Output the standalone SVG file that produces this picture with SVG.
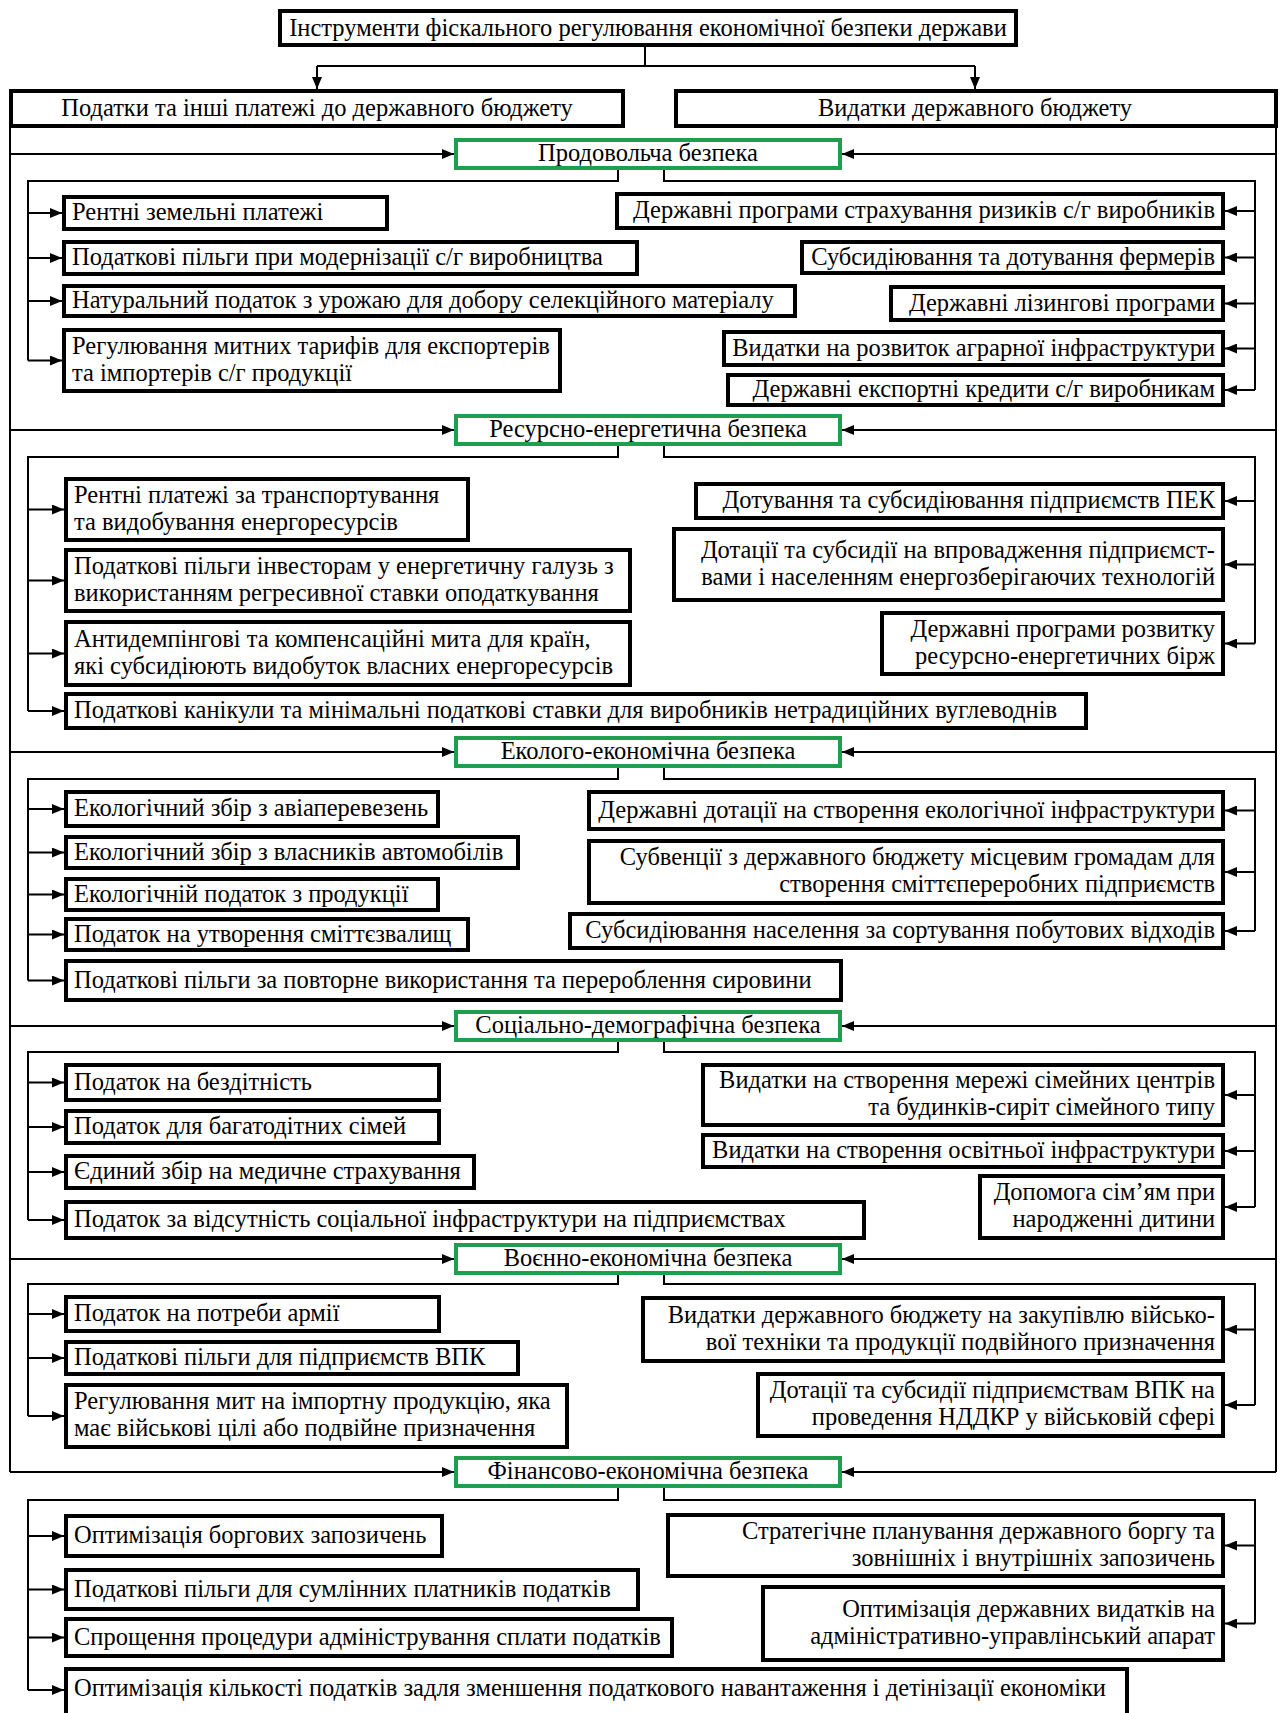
<svg xmlns="http://www.w3.org/2000/svg" width="1281" height="1713" viewBox="0 0 1281 1713">
<style>
.box{fill:#fff;stroke:#000;stroke-width:4}
.gbox{fill:#fff;stroke:#1e9f4f;stroke-width:4}
.t{font-family:"Liberation Serif","Times New Roman",serif;font-size:24.5px;fill:#000}
.l{text-anchor:start}.r{text-anchor:end}.c{text-anchor:middle}
.ln{fill:none;stroke:#000;stroke-width:2}
.ar{fill:none;stroke:#000;stroke-width:2;marker-end:url(#ah)}
</style>
<defs>
<marker id="ah" viewBox="0 0 12 10" refX="12" refY="5" markerWidth="12" markerHeight="10" markerUnits="userSpaceOnUse" orient="auto"><path d="M0,0 L12,5 L0,10 z" fill="#000"/></marker>
</defs>
<rect width="1281" height="1713" fill="#fff"/>
<g id="connectors">
<path class="ln" d="M645,47 V66 M317,66 H975"/>
<path class="ar" d="M317,66 V89"/><path class="ar" d="M975,66 V89"/>
<path class="ln" d="M10,128 V1472 M1276,128 V1472"/>
<path class="ar" d="M10,154 H454"/><path class="ar" d="M1276,154 H842"/>
<path class="ar" d="M10,430 H454"/><path class="ar" d="M1276,430 H842"/>
<path class="ar" d="M10,752 H454"/><path class="ar" d="M1276,752 H842"/>
<path class="ar" d="M10,1026 H454"/><path class="ar" d="M1276,1026 H842"/>
<path class="ar" d="M10,1259 H454"/><path class="ar" d="M1276,1259 H842"/>
<path class="ar" d="M10,1472 H454"/><path class="ar" d="M1276,1472 H842"/>
<path class="ln" d="M618,170 V181 H28 V360.5 M664,170 V181 H1255 V390"/>
<path class="ar" d="M28,213 H62"/><path class="ar" d="M28,258 H62"/><path class="ar" d="M28,301 H62"/><path class="ar" d="M28,360.5 H62"/>
<path class="ar" d="M1255,211 H1225"/><path class="ar" d="M1255,257.5 H1225"/><path class="ar" d="M1255,303.5 H1225"/><path class="ar" d="M1255,348.5 H1225"/><path class="ar" d="M1255,390 H1225"/>
<path class="ln" d="M618,446 V457 H28 V711 M664,446 V457 H1255 V643.5"/>
<path class="ar" d="M28,509.5 H64"/><path class="ar" d="M28,580.5 H64"/><path class="ar" d="M28,653.5 H64"/><path class="ar" d="M28,711 H64"/>
<path class="ar" d="M1255,501 H1225"/><path class="ar" d="M1255,564.5 H1225"/><path class="ar" d="M1255,643.5 H1225"/>
<path class="ln" d="M618,768 V779 H28 V980.5 M664,768 V779 H1255 V931"/>
<path class="ar" d="M28,809 H64"/><path class="ar" d="M28,852.5 H64"/><path class="ar" d="M28,894.5 H64"/><path class="ar" d="M28,934.5 H64"/><path class="ar" d="M28,980.5 H64"/>
<path class="ar" d="M1255,810.5 H1225"/><path class="ar" d="M1255,872 H1225"/><path class="ar" d="M1255,931 H1225"/>
<path class="ln" d="M618,1042 V1052 H28 V1220 M664,1042 V1052 H1255 V1207"/>
<path class="ar" d="M28,1082.5 H64"/><path class="ar" d="M28,1127 H64"/><path class="ar" d="M28,1172 H64"/><path class="ar" d="M28,1220 H64"/>
<path class="ar" d="M1255,1095 H1225"/><path class="ar" d="M1255,1151 H1225"/><path class="ar" d="M1255,1207 H1225"/>
<path class="ln" d="M618,1275 V1284 H28 V1416 M664,1275 V1284 H1255 V1405"/>
<path class="ar" d="M28,1314 H64"/><path class="ar" d="M28,1358 H64"/><path class="ar" d="M28,1416 H64"/>
<path class="ar" d="M1255,1329.5 H1225"/><path class="ar" d="M1255,1405 H1225"/>
<path class="ln" d="M618,1488 V1500 H28 V1690 M664,1488 V1500 H1255 V1623.5"/>
<path class="ar" d="M28,1536 H64"/><path class="ar" d="M28,1589.5 H64"/><path class="ar" d="M28,1637.5 H64"/><path class="ar" d="M28,1690 H64"/>
<path class="ar" d="M1255,1545.5 H1225"/><path class="ar" d="M1255,1623.5 H1225"/>
</g>
<g id="title"><rect class="box" x="280" y="11" width="736" height="34"/><text class="t c" x="648" y="36">Інструменти фіскального регулювання економічної безпеки держави</text></g>
<g id="taxes"><rect class="box" x="11" y="91" width="612" height="35"/><text class="t c" x="317" y="116">Податки та інші платежі до державного бюджету</text></g>
<g id="spend"><rect class="box" x="676" y="91" width="600" height="35"/><text class="t c" x="975" y="116">Видатки державного бюджету</text></g>

<g id="g1"><rect class="gbox" x="456" y="140" width="384" height="28"/><text class="t c" x="648" y="161">Продовольча безпека</text></g>
<g id="s1l1"><rect class="box" x="64" y="197" width="323" height="32"/><text class="t l" x="72" y="220">Рентні земельні платежі</text></g>
<g id="s1l2"><rect class="box" x="64" y="242" width="573" height="32"/><text class="t l" x="72" y="265">Податкові пільги при модернізації с/г виробництва</text></g>
<g id="s1l3"><rect class="box" x="64" y="286" width="731" height="30"/><text class="t l" x="72" y="308">Натуральний податок з урожаю для добору селекційного матеріалу</text></g>
<g id="s1l4"><rect class="box" x="64" y="330" width="496" height="61"/><text class="t l" x="72" y="353.5">Регулювання митних тарифів для експортерів</text><text class="t l" x="72" y="380.5">та імпортерів с/г продукції</text></g>
<g id="s1r1"><rect class="box" x="617" y="194" width="606" height="34"/><text class="t r" x="1215" y="218">Державні програми страхування ризиків с/г виробників</text></g>
<g id="s1r2"><rect class="box" x="802" y="242" width="421" height="31"/><text class="t r" x="1215" y="264.5">Субсидіювання та дотування фермерів</text></g>
<g id="s1r3"><rect class="box" x="891" y="287" width="332" height="33"/><text class="t r" x="1215" y="310.5">Державні лізингові програми</text></g>
<g id="s1r4"><rect class="box" x="724" y="332" width="499" height="33"/><text class="t r" x="1215" y="355.5">Видатки на розвиток аграрної інфраструктури</text></g>
<g id="s1r5"><rect class="box" x="728" y="375" width="495" height="30"/><text class="t r" x="1215" y="397">Державні експортні кредити с/г виробникам</text></g>

<g id="g2"><rect class="gbox" x="456" y="416" width="384" height="28"/><text class="t c" x="648" y="437">Ресурсно-енергетична безпека</text></g>
<g id="s2l1"><rect class="box" x="66" y="479" width="402" height="61"/><text class="t l" x="74" y="502.5">Рентні платежі за транспортування</text><text class="t l" x="74" y="529.5">та видобування енергоресурсів</text></g>
<g id="s2l2"><rect class="box" x="66" y="550" width="564" height="61"/><text class="t l" x="74" y="573.5">Податкові пільги інвесторам у енергетичну галузь  з</text><text class="t l" x="74" y="600.5">використанням регресивної ставки оподаткування</text></g>
<g id="s2l3"><rect class="box" x="66" y="622" width="564" height="63"/><text class="t l" x="74" y="646.5">Антидемпінгові та компенсаційні мита для країн,</text><text class="t l" x="74" y="673.5">які субсидіюють видобуток власних енергоресурсів</text></g>
<g id="s2l4"><rect class="box" x="66" y="694" width="1020" height="34"/><text class="t l" x="74" y="718">Податкові канікули та мінімальні податкові ставки для виробників нетрадиційних вуглеводнів</text></g>
<g id="s2r1"><rect class="box" x="696" y="484" width="527" height="34"/><text class="t r" x="1215" y="508">Дотування та субсидіювання підприємств ПЕК</text></g>
<g id="s2r2"><rect class="box" x="674" y="529" width="549" height="71"/><text class="t r" x="1215" y="557.5">Дотації та субсидії на впровадження підприємст-</text><text class="t r" x="1215" y="584.5">вами і населенням енергозберігаючих технологій</text></g>
<g id="s2r3"><rect class="box" x="882" y="613" width="341" height="61"/><text class="t r" x="1215" y="636.5">Державні програми розвитку</text><text class="t r" x="1215" y="663.5">ресурсно-енергетичних бірж</text></g>

<g id="g3"><rect class="gbox" x="456" y="738" width="384" height="28"/><text class="t c" x="648" y="759">Еколого-економічна безпека</text></g>
<g id="s3l1"><rect class="box" x="66" y="792" width="372" height="34"/><text class="t l" x="74" y="816">Екологічний збір з авіаперевезень</text></g>
<g id="s3l2"><rect class="box" x="66" y="837" width="452" height="31"/><text class="t l" x="74" y="859.5">Екологічний збір з власників автомобілів</text></g>
<g id="s3l3"><rect class="box" x="66" y="879" width="372" height="31"/><text class="t l" x="74" y="901.5">Екологічній податок з продукції</text></g>
<g id="s3l4"><rect class="box" x="66" y="919" width="402" height="31"/><text class="t l" x="74" y="941.5">Податок на утворення сміттєзвалищ</text></g>
<g id="s3l5"><rect class="box" x="66" y="961" width="775" height="39"/><text class="t l" x="74" y="987.5">Податкові пільги за повторне використання та перероблення сировини</text></g>
<g id="s3r1"><rect class="box" x="589" y="792" width="634" height="37"/><text class="t r" x="1215" y="817.5">Державні дотації на створення екологічної інфраструктури</text></g>
<g id="s3r2"><rect class="box" x="589" y="841" width="634" height="62"/><text class="t r" x="1215" y="865">Субвенції з державного бюджету місцевим громадам для</text><text class="t r" x="1215" y="892">створення сміттєпереробних підприємств</text></g>
<g id="s3r3"><rect class="box" x="570" y="914" width="653" height="34"/><text class="t r" x="1215" y="938">Субсидіювання населення за сортування побутових відходів</text></g>

<g id="g4"><rect class="gbox" x="456" y="1012" width="384" height="28"/><text class="t c" x="648" y="1033">Соціально-демографічна безпека</text></g>
<g id="s4l1"><rect class="box" x="66" y="1065" width="373" height="35"/><text class="t l" x="74" y="1089.5">Податок на бездітність</text></g>
<g id="s4l2"><rect class="box" x="66" y="1111" width="373" height="32"/><text class="t l" x="74" y="1134">Податок для багатодітних сімей</text></g>
<g id="s4l3"><rect class="box" x="66" y="1156" width="408" height="32"/><text class="t l" x="74" y="1179">Єдиний збір на медичне страхування</text></g>
<g id="s4l4"><rect class="box" x="66" y="1202" width="798" height="36"/><text class="t l" x="74" y="1227">Податок за відсутність соціальної інфраструктури на підприємствах</text></g>
<g id="s4r1"><rect class="box" x="703" y="1065" width="520" height="60"/><text class="t r" x="1215" y="1088">Видатки на створення мережі сімейних центрів</text><text class="t r" x="1215" y="1115">та будинків-сиріт сімейного типу</text></g>
<g id="s4r2"><rect class="box" x="703" y="1135" width="520" height="32"/><text class="t r" x="1215" y="1158">Видатки на створення освітньої інфраструктури</text></g>
<g id="s4r3"><rect class="box" x="980" y="1176" width="243" height="62"/><text class="t r" x="1215" y="1200">Допомога сім’ям при</text><text class="t r" x="1215" y="1227">народженні дитини</text></g>

<g id="g5"><rect class="gbox" x="456" y="1245" width="384" height="28"/><text class="t c" x="648" y="1266">Воєнно-економічна безпека</text></g>
<g id="s5l1"><rect class="box" x="66" y="1297" width="373" height="34"/><text class="t l" x="74" y="1321">Податок на потреби армії</text></g>
<g id="s5l2"><rect class="box" x="66" y="1342" width="452" height="32"/><text class="t l" x="74" y="1365">Податкові пільги для підприємств ВПК</text></g>
<g id="s5l3"><rect class="box" x="66" y="1385" width="501" height="62"/><text class="t l" x="74" y="1409">Регулювання мит на імпортну продукцію, яка</text><text class="t l" x="74" y="1436">має військові цілі або подвійне призначення</text></g>
<g id="s5r1"><rect class="box" x="643" y="1298" width="580" height="63"/><text class="t r" x="1215" y="1322.5">Видатки державного бюджету на закупівлю військо-</text><text class="t r" x="1215" y="1349.5">вої техніки та продукції подвійного призначення</text></g>
<g id="s5r2"><rect class="box" x="758" y="1374" width="465" height="62"/><text class="t r" x="1215" y="1398">Дотації та субсидії підприємствам ВПК на</text><text class="t r" x="1215" y="1425">проведення НДДКР у військовій сфері</text></g>

<g id="g6"><rect class="gbox" x="456" y="1458" width="384" height="28"/><text class="t c" x="648" y="1479">Фінансово-економічна безпека</text></g>
<g id="s6l1"><rect class="box" x="66" y="1516" width="376" height="40"/><text class="t l" x="74" y="1543">Оптимізація боргових запозичень</text></g>
<g id="s6l2"><rect class="box" x="66" y="1570" width="572" height="39"/><text class="t l" x="74" y="1596.5">Податкові пільги для сумлінних платників податків</text></g>
<g id="s6l3"><rect class="box" x="66" y="1619" width="606" height="37"/><text class="t l" x="74" y="1644.5">Спрощення процедури адміністрування сплати податків</text></g>
<g id="s6l4"><rect class="box" x="66" y="1669" width="1061" height="60"/><text class="t l" x="74" y="1696">Оптимізація кількості податків задля зменшення податкового навантаження і детінізації економіки</text></g>
<g id="s6r1"><rect class="box" x="668" y="1515" width="555" height="61"/><text class="t r" x="1215" y="1538.5">Стратегічне планування державного боргу та</text><text class="t r" x="1215" y="1565.5">зовнішніх і внутрішніх запозичень</text></g>
<g id="s6r2"><rect class="box" x="763" y="1587" width="460" height="73"/><text class="t r" x="1215" y="1616.5">Оптимізація державних видатків на</text><text class="t r" x="1215" y="1643.5">адміністративно-управлінський апарат</text></g>
</svg>
